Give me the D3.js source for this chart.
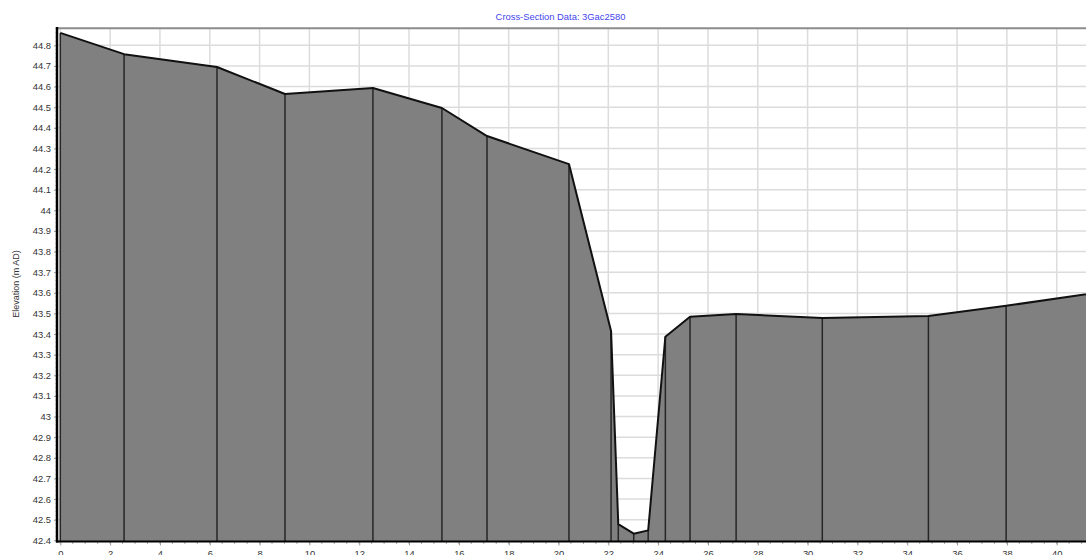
<!DOCTYPE html>
<html>
<head>
<meta charset="utf-8">
<script src="https://cdn.jsdelivr.net/npm/d3@7/dist/d3.min.js"></script>
<style>
  html, body { margin: 0; padding: 0; background: #fff; overflow: hidden; }
  svg { display: block; font-family: "Liberation Sans", Arial, sans-serif; }
</style>
</head>
<body>
<svg id="chart" width="1086" height="555"></svg>
<script>
// Data
const chainage = [0, 2.56, 6.29, 9.02, 12.55, 15.32, 17.13, 20.42, 22.11, 22.40, 23.02, 23.60, 24.29, 25.28, 27.13, 30.59, 34.85, 37.97, 42.0];
const elevation = [44.86, 44.757, 44.695, 44.564, 44.593, 44.496, 44.36, 44.224, 43.415, 42.478, 42.432, 42.448, 43.387, 43.484, 43.497, 43.478, 43.488, 43.537, 43.607];
const xTicks = d3.range(0, 42, 2);
const yTicks = d3.range(42.4, 44.85, 0.1).map(v => +v.toFixed(1));
const titleText = "Cross-Section Data: 3Gac2580";
const yTitle = "Elevation (m AD)";

(function () {
const svg = d3.select("#chart");
const pL = 58, pT = 28, pB = 541.5, pR = 1100;

const x = d3.scaleLinear().domain([0, 40]).range([60.3, 1056.7]);
const y = d3.scaleLinear().domain([42.4, 44.8]).range([540.3, 45.3]);

const pts = chainage.map((c, i) => ({ c, e: elevation[i] }));

svg.append("defs").append("clipPath").attr("id", "clip")
  .append("rect").attr("x", pL).attr("y", pT).attr("width", pR - pL).attr("height", pB - pT);

const plot = svg.append("g").attr("clip-path", "url(#clip)");

// grid
plot.append("g").selectAll("line").data(d3.range(0, 44, 2)).join("line")
  .attr("x1", d => x(d)).attr("x2", d => x(d)).attr("y1", pT).attr("y2", pB)
  .attr("stroke", "#dcdcdc").attr("stroke-width", 1.5);
plot.append("g").selectAll("line").data(yTicks).join("line")
  .attr("x1", pL).attr("x2", pR).attr("y1", d => y(d)).attr("y2", d => y(d))
  .attr("stroke", "#dcdcdc").attr("stroke-width", 1.5);

// area
const area = d3.area().x(d => x(d.c)).y0(pB).y1(d => y(d.e));
plot.append("path").datum(pts).attr("d", area).attr("fill", "#808080");

// drop lines
plot.append("g").selectAll("line").data(pts).join("line")
  .attr("x1", d => x(d.c)).attr("x2", d => x(d.c))
  .attr("y1", d => y(d.e)).attr("y2", pB)
  .attr("stroke", "#262626").attr("stroke-width", 1.5);

// profile line
const line = d3.line().x(d => x(d.c)).y(d => y(d.e));
plot.append("path").datum(pts).attr("d", line)
  .attr("fill", "none").attr("stroke", "#111").attr("stroke-width", 2).attr("stroke-linejoin", "round");

// top border
svg.append("line").attr("x1", pL).attr("x2", 1086).attr("y1", 28.2).attr("y2", 28.2)
  .attr("stroke", "#8c8c8c").attr("stroke-width", 2);

// Y axis
const yAxis = d3.axisLeft(y).tickValues(yTicks).tickSize(4).tickPadding(3)
  .tickFormat(d => d3.format("")(d));
const yg = svg.append("g").attr("transform", `translate(${pL},0)`).call(yAxis);
yg.select(".domain").remove();
yg.selectAll(".tick line").attr("stroke", "#999");
yg.selectAll(".tick text").attr("fill", "#333").style("font-size", "9.4px");
// y minor ticks
svg.append("g").selectAll("line").data(d3.range(42.4, 44.89, 0.02)).join("line")
  .attr("x1", pL - 2.5).attr("x2", pL).attr("y1", d => y(d)).attr("y2", d => y(d))
  .attr("stroke", "#aaa").attr("stroke-width", 1);
svg.append("line").attr("x1", 57).attr("x2", 57).attr("y1", pT - 1).attr("y2", pB + 1)
  .attr("stroke", "#000").attr("stroke-width", 2.5);

// X axis
const xAxis = d3.axisBottom(x).tickValues(xTicks).tickSize(4).tickPadding(5);
const xg = svg.append("g").attr("transform", `translate(0,${pB})`).call(xAxis);
xg.select(".domain").remove();
xg.selectAll(".tick line").attr("stroke", "#999");
xg.selectAll(".tick text").attr("fill", "#333").style("font-size", "9.4px");
svg.append("g").selectAll("line").data(d3.range(0, 42, 0.5)).join("line")
  .attr("x1", d => x(d)).attr("x2", d => x(d)).attr("y1", pB).attr("y2", pB + 2.5)
  .attr("stroke", "#aaa").attr("stroke-width", 1);
svg.append("line").attr("x1", 56).attr("x2", 1086).attr("y1", pB).attr("y2", pB)
  .attr("stroke", "#000").attr("stroke-width", 2);

// titles
svg.append("text").attr("x", 560.5).attr("y", 20).attr("text-anchor", "middle")
  .attr("fill", "#4444ee").style("font-size", "9.4px").text(titleText);
svg.append("text").attr("transform", "translate(19,284) rotate(-90)").attr("text-anchor", "middle")
  .attr("fill", "#333").style("font-size", "9px").text(yTitle);
})();
</script>
</body>
</html>
